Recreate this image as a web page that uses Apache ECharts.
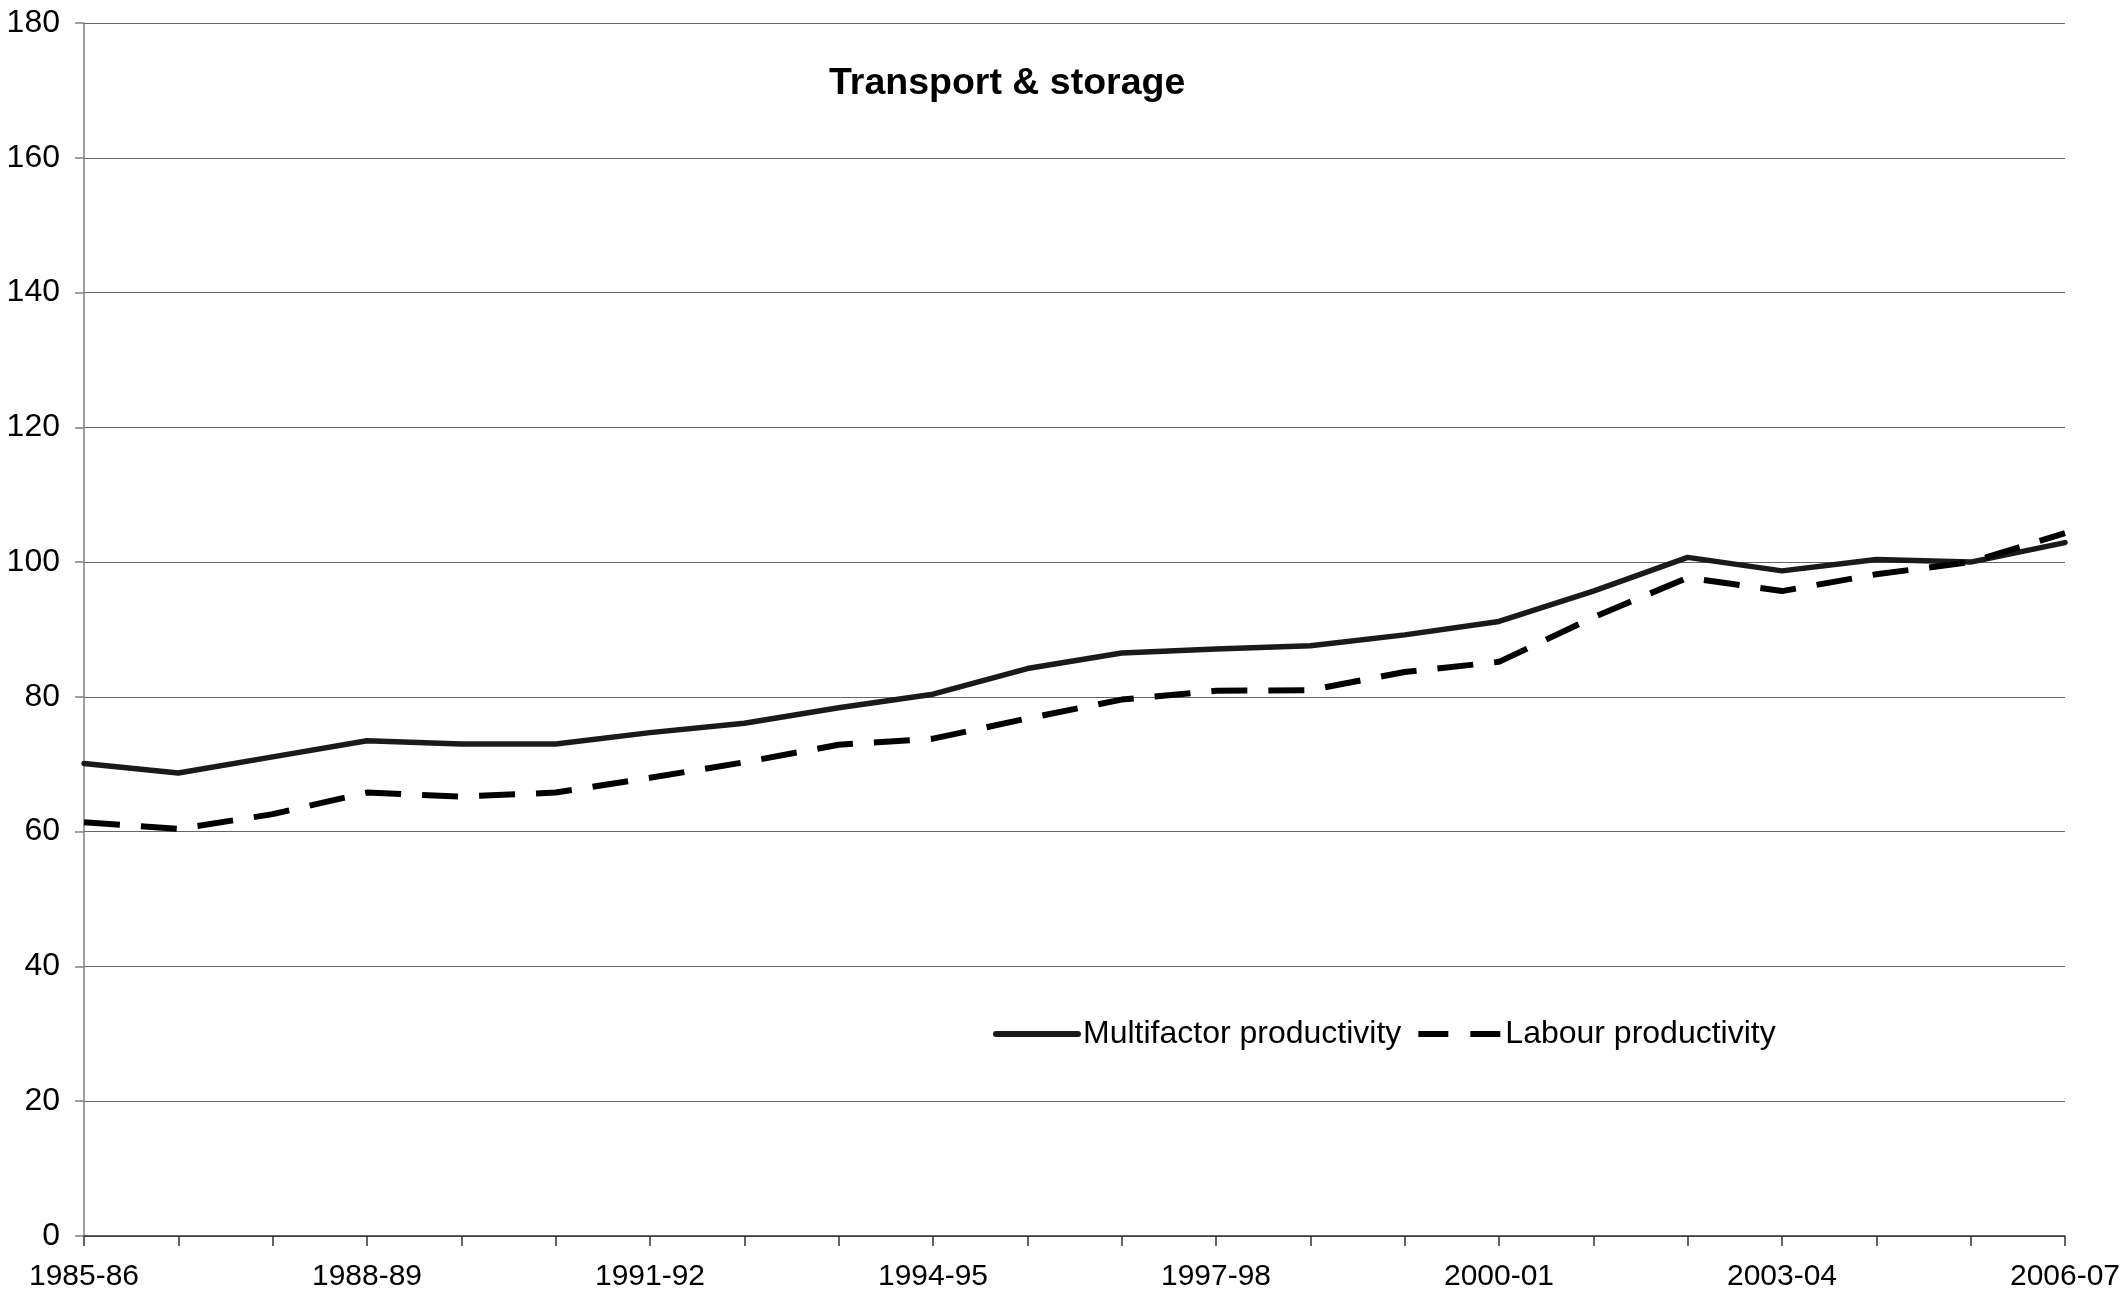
<!DOCTYPE html>
<html>
<head>
<meta charset="utf-8">
<script src="https://cdn.jsdelivr.net/npm/echarts@6/dist/echarts.min.js"></script>
<style>
  html, body { margin: 0; padding: 0; background: #fff; }
  #chart { width: 2127px; height: 1295px; }
</style>
</head>
<body>
<div id="chart"></div>
<script>
// financial years
const years = ['1985-86', '1986-87', '1987-88', '1988-89', '1989-90', '1990-91', '1991-92',
	'1992-93', '1993-94', '1994-95', '1995-96', '1996-97', '1997-98', '1998-99', '1999-00',
	'2000-01', '2001-02', '2002-03', '2003-04', '2004-05', '2005-06', '2006-07'];
const multifactor = [70.1, 68.7, 71.1, 73.5, 73.0, 73.0, 74.7, 76.1, 78.4, 80.4, 84.2,
	86.5, 87.1, 87.6, 89.2, 91.2, 95.7, 100.7, 98.7, 100.4, 100.0, 102.9];
const labour = [61.4, 60.4, 62.6, 65.8, 65.2, 65.8, 68.0, 70.3, 72.9, 73.8, 76.8,
	79.6, 80.9, 81.0, 83.7, 85.2, 91.8, 97.7, 95.7, 98.2, 100.0, 104.3];

const font = '"Liberation Sans", Arial, sans-serif';
const chart = echarts.init(document.getElementById('chart'));

chart.setOption({
	animation: false,
	backgroundColor: '#fff',
	title: {
		text: 'Transport & storage',
		left: 829,
		top: 65,
		padding: 0,
		textStyle: {
			fontFamily: font,
			fontWeight: 'bold',
			fontSize: 37.5,
			color: '#000'
		}
	},
	legend: {
		left: 988,
		top: 1013,
		itemWidth: 82,
		itemHeight: 14,
		itemGap: 14,
		itemStyle: { opacity: 0 },
		textStyle: {
			fontFamily: font,
			fontSize: 32,
			color: '#000'
		},
		data: [
			{name: 'Multifactor productivity', lineStyle: {width: 6, cap: 'round', color: '#1a1a1a'}},
			{name: 'Labour productivity', lineStyle: {width: 6, type: [30, 22], color: '#000'}}
		]
	},
	grid: {
		left: 84,
		right: 62,
		top: 23,
		bottom: 59,
		outerBoundsMode: 'none'
	},
	xAxis: {
		type: 'category',
		data: years,
		boundaryGap: false,
		axisLine: { lineStyle: { color: '#333', width: 1.5 } },
		axisTick: { show: true, interval: 0, length: 10, lineStyle: { color: '#333', width: 1.5 } },
		axisLabel: {
			interval: 2,
			margin: 26,
			fontFamily: font,
			fontSize: 30,
			color: '#000'
		},
		splitLine: { show: false }
	},
	yAxis: {
		type: 'value',
		min: 0,
		max: 180,
		interval: 20,
		axisLine: { show: true, lineStyle: { color: '#808080', width: 1.5 } },
		axisTick: { show: true, length: 9, lineStyle: { color: '#808080', width: 1.5 } },
		axisLabel: {
			margin: 24,
			fontFamily: font,
			fontSize: 32,
			color: '#000'
		},
		splitLine: { lineStyle: { color: '#666', width: 1.2 } }
	},
	series: [
		{
			name: 'Multifactor productivity',
			type: 'line',
			data: multifactor,
			symbol: 'none',
			color: '#1a1a1a',
			lineStyle: { color: '#1a1a1a', width: 5.5, cap: 'round', join: 'round' }
		},
		{
			name: 'Labour productivity',
			type: 'line',
			data: labour,
			symbol: 'none',
			color: '#000',
			lineStyle: { color: '#000', width: 6, type: [36, 21] }
		}
	]
});
</script>
</body>
</html>
